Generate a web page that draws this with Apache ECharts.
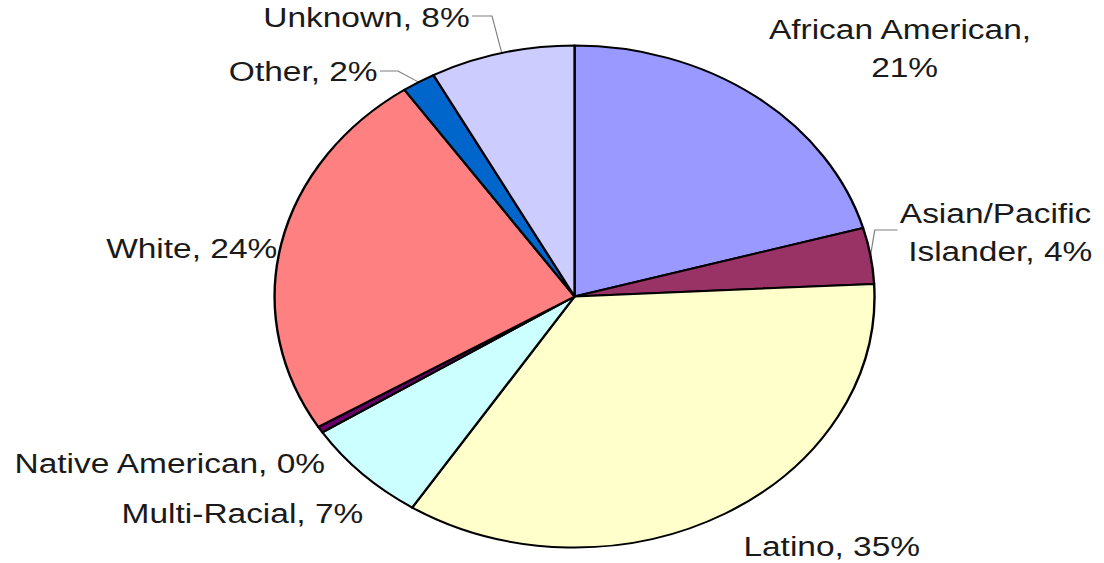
<!DOCTYPE html>
<html>
<head>
<meta charset="utf-8">
<title>Ethnicity breakdown</title>
<script src="https://cdn.jsdelivr.net/npm/echarts@6/dist/echarts.min.js"></script>
<style>
  html, body { margin: 0; padding: 0; background: #ffffff; overflow: hidden; }
  /* The pie is drawn round and then widened, giving the oval look. */
  #chart { width: 924px; height: 563px; transform: scaleX(1.195); transform-origin: 0 0; }
</style>
</head>
<body>
<div id="chart"></div>
<script>
// Share of each group, in percent
const categories = ['African American', 'Asian/Pacific Islander', 'Latino', 'Multi-Racial',
                    'Native American', 'White', 'Other', 'Unknown'];
const shares = [20.6, 3.6, 34.9, 6.8, 0.4, 24.1, 1.8, 7.8];
const colors = ['#9999FF', '#993366', '#FFFFCC', '#CCFFFF', '#660066', '#FF8080', '#0066CC', '#CCCCFF'];

// Where each label sits (chart pixels before widening), and its leader elbow if any
const labelPlacement = {
  'African American':       { x: 757, y: 48,  align: 'center', width: 250 },
  'Asian/Pacific Islander': { x: 837, y: 232, align: 'center', width: 180, elbow: [[732, 230], [751, 230]] },
  'Latino':                 { x: 696, y: 546, align: 'center' },
  'Multi-Racial':           { x: 304, y: 513, align: 'right' },
  'Native American':        { x: 272, y: 463, align: 'right' },
  'White':                  { x: 232, y: 248, align: 'right' },
  'Other':                  { x: 316, y: 71,  align: 'right', elbow: [[333, 71], [318, 71]] },
  'Unknown':                { x: 393, y: 17,  align: 'right', elbow: [[411.7, 16], [395, 16]] }
};

const data = categories.map((name, i) => {
  const place = labelPlacement[name];
  const item = {
    name: name,
    value: shares[i],
    itemStyle: { color: colors[i] },
    labelLine: { show: !!place.elbow }
  };
  if (place.width) {
    item.label = { width: place.width, overflow: 'break' };
  }
  return item;
});

const chart = echarts.init(document.getElementById('chart'), null, { renderer: 'svg' });
chart.setOption({
  backgroundColor: '#ffffff',
  animation: false,
  series: [{
    type: 'pie',
    center: [480.8, 296.5],
    radius: 251,
    startAngle: 90,
    clockwise: true,
    avoidLabelOverlap: false,
    itemStyle: { borderColor: '#000000', borderWidth: 2 },
    label: {
      show: true,
      position: 'outside',
      fontFamily: 'Liberation Sans, Arial, sans-serif',
      fontSize: 28,
      lineHeight: 38,
      color: '#1a1a1a',
      formatter: p => p.name + ', ' + Math.round(p.value) + '%'
    },
    labelLine: {
      lineStyle: { color: '#7f7f7f', width: 1 }
    },
    labelLayout: function (params) {
      const name = categories[params.dataIndex];
      const place = labelPlacement[name];
      const out = { x: place.x, y: place.y, align: place.align, verticalAlign: 'middle' };
      if (place.elbow && params.labelLinePoints) {
        out.labelLinePoints = [params.labelLinePoints[0]].concat(place.elbow);
      }
      return out;
    },
    emphasis: { disabled: true },
    data: data
  }]
});
</script>
</body>
</html>
